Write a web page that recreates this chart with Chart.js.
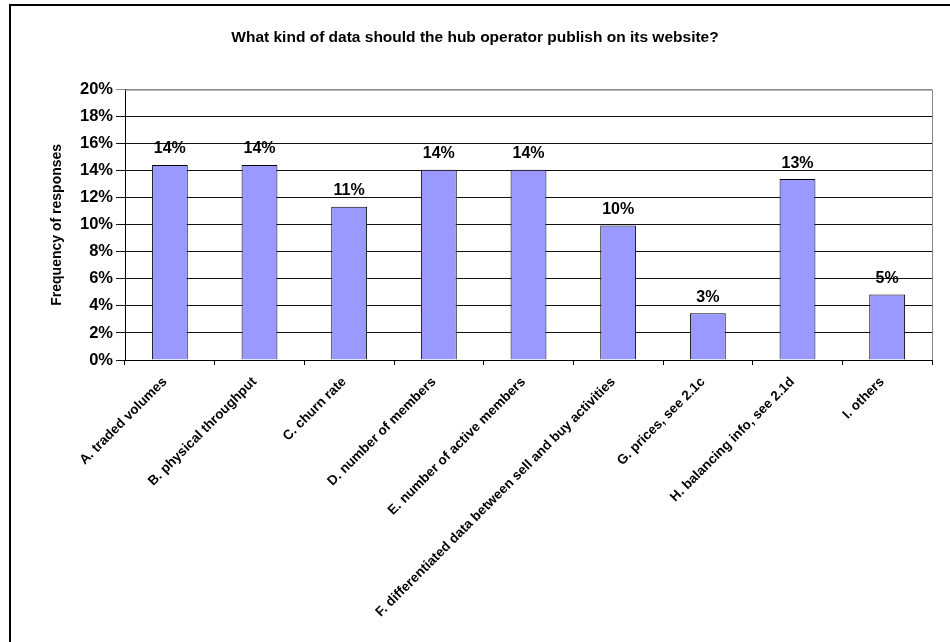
<!DOCTYPE html>
<html>
<head>
<meta charset="utf-8">
<script src="https://cdn.jsdelivr.net/npm/chart.js@4"></script>
<style>
  html, body { margin: 0; padding: 0; background: #fff; }
  #wrap { position: relative; width: 950px; height: 642px; overflow: hidden; }
  #frame { position: absolute; left: 9px; top: 4px; width: 1000px; height: 1000px;
           border-left: 2px solid #000; border-top: 2px solid #000; pointer-events: none; }
  canvas { position: absolute; left: 0; top: 0; }
</style>
</head>
<body>
<div id="wrap">
  <canvas id="c" width="950" height="642"></canvas>
  <div id="frame"></div>
</div>
<script>
const categories = [
  "A. traded volumes",
  "B. physical throughput",
  "C. churn rate",
  "D. number of members",
  "E. number of active members",
  "F. differentiated data between sell and buy activities",
  "G. prices, see 2.1c",
  "H. balancing info, see 2.1d",
  "I. others"
];
const frequencies = [14.42, 14.42, 11.33, 14.07, 14.07, 9.95, 3.46, 13.38, 4.84];
const chartTitle = "What kind of data should the hub operator publish on its website?";
const yAxisTitle = "Frequency of responses";
const yTickValues = [0, 2, 4, 6, 8, 10, 12, 14, 16, 18, 20];

const FONT = "'Liberation Sans', Arial, Helvetica, sans-serif";

const valueLabels = {
  id: 'valueLabels',
  afterDatasetsDraw(chart) {
    const ctx = chart.ctx;
    const meta = chart.getDatasetMeta(0);
    ctx.save();
    ctx.font = "bold 16px " + FONT;
    ctx.fillStyle = "#000";
    ctx.textAlign = "center";
    ctx.textBaseline = "middle";
    meta.data.forEach((bar, i) => {
      ctx.fillText(Math.round(frequencies[i]) + "%", bar.x, bar.y - 16);
    });
    ctx.restore();
  }
};

const plotBorder = {
  id: 'plotBorder',
  beforeDatasetsDraw(chart) {
    const {ctx, chartArea: a} = chart;
    ctx.save();
    ctx.strokeStyle = "#888";
    ctx.lineWidth = 1;
    ctx.beginPath();
    ctx.moveTo(a.left, a.top + 0.5);
    ctx.lineTo(a.right + 0.5, a.top + 0.5);
    ctx.lineTo(a.right + 0.5, a.bottom);
    ctx.stroke();
    ctx.restore();
  }
};

new Chart(document.getElementById('c'), {
  type: 'bar',
  data: {
    labels: categories,
    datasets: [{
      data: frequencies,
      backgroundColor: '#9999FF',
      borderColor: '#000',
      borderWidth: 1,
      categoryPercentage: 1,
      barPercentage: 0.4
    }]
  },
  options: {
    responsive: false,
    animation: false,
    devicePixelRatio: 1,
    layout: { padding: { left: 18, right: 18, top: 0, bottom: 0 } },
    plugins: {
      legend: { display: false },
      tooltip: { enabled: false },
      title: {
        display: true,
        text: chartTitle,
        color: '#000',
        font: { family: FONT, size: 15.5, weight: 'bold', lineHeight: 1.2 },
        padding: { top: 28, bottom: 43 }
      }
    },
    scales: {
      x: {
        grid: { offset: true, drawOnChartArea: false, tickLength: 5, color: '#000' },
        border: { color: '#000', width: 1 },
        ticks: {
          color: '#000',
          autoSkip: false,
          maxRotation: 45,
          minRotation: 45,
          padding: 9,
          labelOffset: -5,
          font: { family: FONT, size: 13.5, weight: 'bold' }
        },
        afterFit(scale) { scale.height = 282; }
      },
      y: {
        min: 0,
        max: 20,
        afterBuildTicks(scale) { scale.ticks = yTickValues.map(v => ({ value: v })); },
        grid: {
          color: ctx => (ctx.tick && ctx.tick.value === 20) ? '#888' : '#111',
          tickLength: 9,
          lineWidth: 1
        },
        border: { color: '#000', width: 1 },
        ticks: {
          color: '#000',
          padding: 3,
          font: { family: FONT, size: 16.5, weight: 'bold' },
          callback: v => v + '%'
        },
        title: {
          display: true,
          text: yAxisTitle,
          color: '#000',
          font: { family: FONT, size: 14, weight: 'bold', lineHeight: 1.2 },
          padding: { top: 31, bottom: 0 }
        },
        afterFit(scale) { scale.width = 107; }
      }
    }
  },
  plugins: [plotBorder, valueLabels]
});
</script>
</body>
</html>
